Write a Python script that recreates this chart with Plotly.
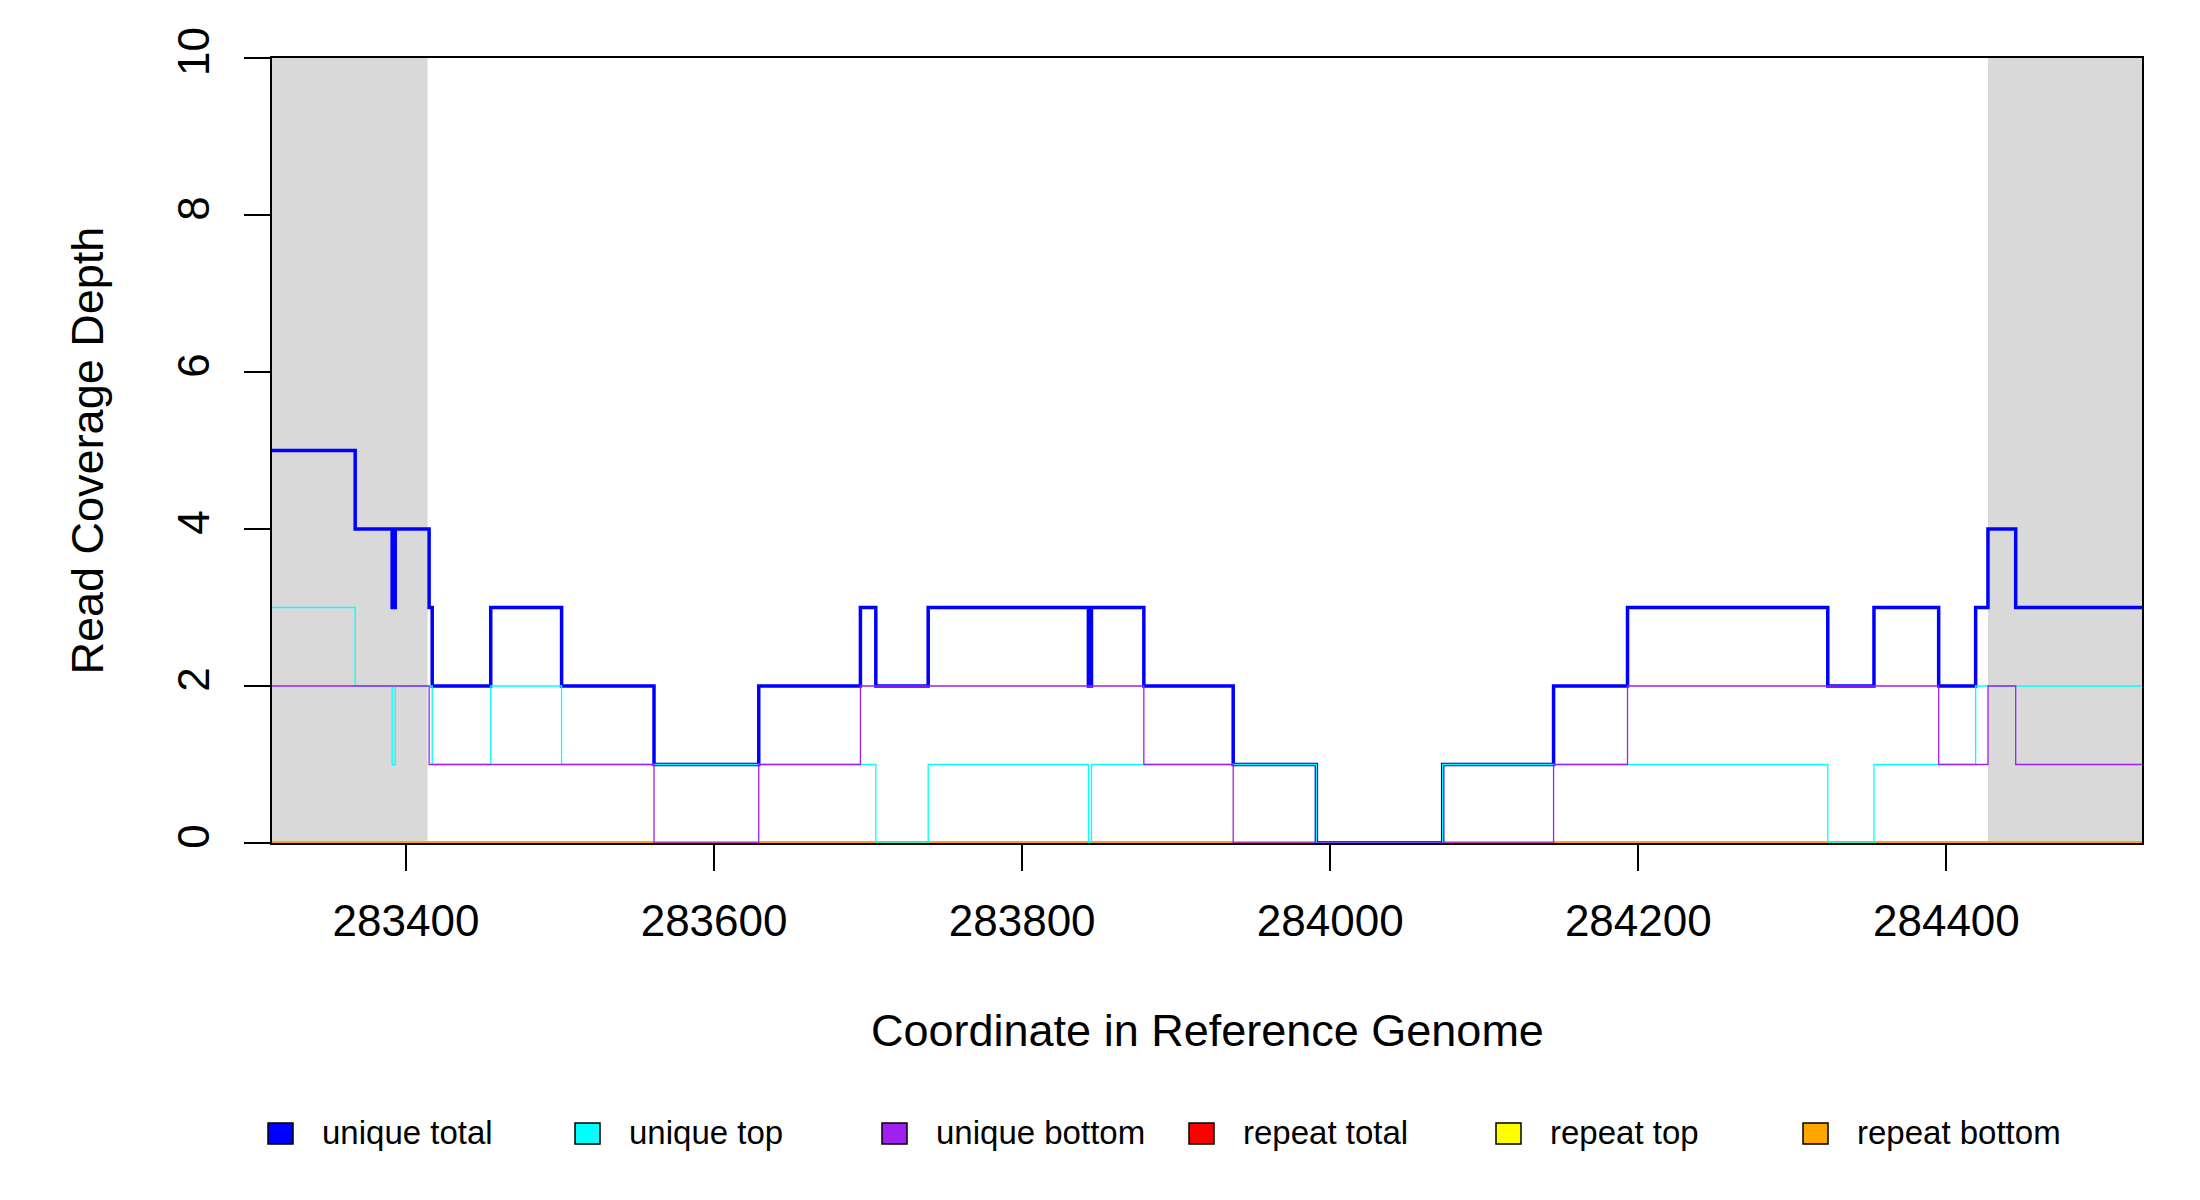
import plotly.graph_objects as go

# Coverage step functions (value holds from each breakpoint until the next one)
breaks = [283313, 283367, 283391, 283393, 283415, 283417, 283455, 283501, 283561,
          283629, 283695, 283705, 283739, 283843, 283845, 283879, 283937, 283991,
          284073, 284145, 284193, 284323, 284353, 284395, 284419, 284427, 284445, 284527]
unique_total = [5, 4, 3, 4, 3, 2, 3, 2, 1, 2, 3, 2, 3, 2, 3, 2, 1, 0, 1, 2, 3, 2, 3, 2, 3, 4, 3, 3]
unique_top = [3, 2, 1, 2, 2, 1, 2, 1, 1, 1, 1, 0, 1, 0, 1, 1, 1, 0, 1, 1, 1, 0, 1, 1, 2, 2, 2, 2]
unique_bottom = [2, 2, 2, 2, 1, 1, 1, 1, 0, 1, 2, 2, 2, 2, 2, 1, 0, 0, 0, 1, 2, 2, 2, 1, 1, 2, 1, 1]
repeat_total = [0] * len(breaks)
repeat_top = [0] * len(breaks)
repeat_bottom = [0] * len(breaks)

# flanking regions outside the feature
shaded = [(283313, 283414), (284427, 284527)]

x_range = [283313, 284527]
y_range = [0, 10]
x_ticks = [283400, 283600, 283800, 284000, 284200, 284400]
y_ticks = [0, 2, 4, 6, 8, 10]

names = ["unique total", "unique top", "unique bottom", "repeat total", "repeat top", "repeat bottom"]
series = [unique_total, unique_top, unique_bottom, repeat_total, repeat_top, repeat_bottom]
colors = ["#0000FF", "#00FFFF", "#A020F0", "#FF0000", "#FFFF00", "#FFA500"]
widths = [3.5, 1.3, 1.3, 4, 4, 4]

FONT = "Liberation Sans, Arial, sans-serif"
W, H = 2200, 1200
OFF = 8  # page body margin
L, R, T, B = 272 - OFF, 66, 58 - OFF, 365
pw, ph = W - L - R, H - T - B


def px_x(px):
    return (px - OFF - L) / pw


def px_y(py):
    return (H - B - (py - OFF)) / ph


fig = go.Figure()

# repeat series first so the unique ones sit on top of them
order = [3, 4, 5, 0, 1, 2]
for i in order:
    fig.add_trace(go.Scatter(x=breaks, y=series[i], mode="lines", name=names[i],
                             line=dict(color=colors[i], width=widths[i], shape="hv"),
                             showlegend=False))

for x0, x1 in shaded:
    fig.add_shape(type="rect", xref="x", yref="y", x0=x0, x1=x1, y0=y_range[0], y1=y_range[1],
                  fillcolor="#D9D9D9", line=dict(width=0), layer="below")

# legend drawn by hand: filled boxes with black outline
for i, (name, col) in enumerate(zip(names, colors)):
    sx = 268 + i * 307
    fig.add_shape(type="rect", xref="paper", yref="paper",
                  x0=px_x(sx), x1=px_x(sx + 25), y0=px_y(1144), y1=px_y(1123),
                  fillcolor=col, line=dict(color="black", width=1.5))
    fig.add_annotation(xref="paper", yref="paper", x=px_x(sx + 52), y=px_y(1132),
                       text=name, showarrow=False, xanchor="left", yanchor="middle",
                       font=dict(family=FONT, size=33, color="black"))

fig.add_annotation(xref="paper", yref="paper", x=0.5, y=px_y(1030),
                   text="Coordinate in Reference Genome", showarrow=False,
                   xanchor="center", yanchor="middle",
                   font=dict(family=FONT, size=45, color="black"))
fig.add_annotation(xref="paper", yref="paper", x=px_x(87), y=0.5,
                   text="Read Coverage Depth", showarrow=False, textangle=-90,
                   xanchor="center", yanchor="middle",
                   font=dict(family=FONT, size=45, color="black"))

fig.update_layout(
    width=W, height=H,
    margin=dict(l=L, r=R, t=T, b=B, pad=0),
    paper_bgcolor="white", plot_bgcolor="white",
    font=dict(family=FONT, size=44, color="black"),
    showlegend=False,
)
fig.update_xaxes(range=x_range, tickvals=x_ticks, ticktext=[str(v) for v in x_ticks],
                 ticks="outside", ticklen=26, tickwidth=1.5, tickcolor="black",
                 ticklabelstandoff=12,
                 showline=True, mirror=True, linecolor="black", linewidth=1.5,
                 showgrid=False, zeroline=False, tickfont=dict(size=44))
fig.update_yaxes(range=y_range, tickvals=y_ticks, ticks="outside", ticklen=26, tickwidth=1.5,
                 tickcolor="black", tickangle=-90, ticklabelstandoff=18,
                 showline=True, mirror=True, linecolor="black", linewidth=1.5,
                 showgrid=False, zeroline=False, tickfont=dict(size=44))

fig.write_html("out.html")
